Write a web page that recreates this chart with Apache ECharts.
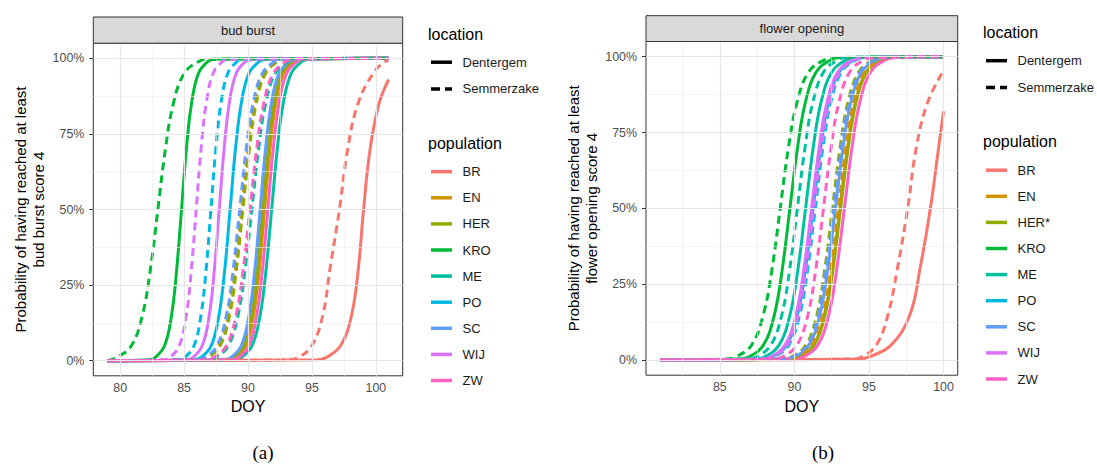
<!DOCTYPE html>
<html><head><meta charset="utf-8">
<script src="https://cdn.jsdelivr.net/npm/echarts@6/dist/echarts.min.js"></script>
<style>html,body{margin:0;padding:0;background:#fff}#c{width:1097px;height:464px}</style>
</head><body><div id="c"></div>
<script>
// ---------- data ----------
const POPULATIONS = ['BR','EN','HER','KRO','ME','PO','SC','WIJ','ZW'];
const POP_LABELS_A = ['BR','EN','HER','KRO','ME','PO','SC','WIJ','ZW'];
const POP_LABELS_B = ['BR','EN','HER*','KRO','ME','PO','SC','WIJ','ZW'];
const POP_COLORS = ['#F8766D','#D39200','#93AA00','#00BA38','#00C19F','#00B9E3','#619CFF','#DB72FB','#FF61C3'];
const LOCATIONS = ['Dentergem','Semmerzake'];
const PANEL_TITLES = ['bud burst','flower opening'];
const Y_TITLES = ['Probability of having reached at least\nbud burst score 4','Probability of having reached at least\nflower opening score 4'];
const X_TITLE = 'DOY';
const SUB_LABELS = ['(a)','(b)'];

// probability levels (%) at which each curve's DOY crossing was read
const LEVELS = [0.3, 1, 5, 15, 30, 50, 70, 85, 95, 99, 99.7];
const PCT_TICKS = [0, 25, 50, 75, 100];
const PCT_MINOR = [12.5, 37.5, 62.5, 87.5];
const DOY_TICKS_A = [80, 85, 90, 95, 100];
const DOY_MINOR_A = [82.5, 87.5, 92.5, 97.5];
const DOY_TICKS_B = [85, 90, 95, 100];
const DOY_MINOR_B = [82.5, 87.5, 92.5, 97.5];
const DOY_SPAN_A = [79, 101];
const DOY_SPAN_B = [81, 100];

// bud burst, Dentergem (solid) - DOY at each level, rows in POPULATIONS order
const BUD_DENTERGEM = [
  [95.4, 96.1, 97.25, 98.1, 98.62, 99.04, 99.55, 100.25, null, null, null],
  [88.4, 89.0, 89.83, 90.43, 90.88, 91.3, 91.72, 92.17, 92.77, 93.6, 94.2],
  [88.25, 88.85, 89.68, 90.28, 90.73, 91.15, 91.57, 92.02, 92.62, 93.45, 94.05],
  [82.19, 82.73, 83.48, 84.02, 84.42, 84.8, 85.18, 85.58, 86.12, 86.87, 87.41],
  [88.83, 89.46, 90.32, 90.95, 91.41, 91.85, 92.29, 92.75, 93.38, 94.24, 94.87],
  [85.7, 86.3, 87.13, 87.73, 88.18, 88.6, 89.02, 89.47, 90.07, 90.9, 91.5],
  [88.05, 88.65, 89.48, 90.08, 90.53, 90.95, 91.37, 91.82, 92.42, 93.25, 93.85],
  [85.14, 85.68, 86.43, 86.97, 87.37, 87.75, 88.13, 88.53, 89.07, 89.82, 90.36],
  [88.65, 89.25, 90.08, 90.68, 91.13, 91.55, 91.97, 92.42, 93.02, 93.85, 94.45]
];
const BUD_DENTERGEM_END = [93, 100, 100, 100, 100, 100, 100, 100, 100];
// bud burst, Semmerzake (dashed)
const BUD_SEMMERZAKE = [
  [93.0, 93.9, 95.0, 95.85, 96.4, 97.15, 97.8, 98.6, 99.79, 100.75, null],
  [86.01, 86.74, 87.73, 88.46, 88.99, 89.5, 90.01, 90.54, 91.27, 92.26, 92.99],
  [86.11, 86.84, 87.83, 88.56, 89.09, 89.6, 90.11, 90.64, 91.37, 92.36, 93.09],
  [null, 79.73, 80.89, 81.74, 82.36, 82.95, 83.54, 84.16, 85.01, 86.17, 87.02],
  [86.7, 87.45, 88.47, 89.22, 89.77, 90.3, 90.83, 91.38, 92.13, 93.15, 93.9],
  [84.49, 85.03, 85.78, 86.32, 86.72, 87.1, 87.48, 87.88, 88.42, 89.17, 89.71],
  [85.86, 86.59, 87.58, 88.31, 88.84, 89.35, 89.86, 90.39, 91.12, 92.11, 92.84],
  [83.34, 83.88, 84.63, 85.17, 85.57, 85.95, 86.33, 86.73, 87.27, 88.02, 88.56],
  [86.55, 87.3, 88.32, 89.07, 89.62, 90.15, 90.68, 91.23, 91.98, 93.0, 93.75]
];
const BUD_SEMMERZAKE_END = [99.2, 100, 100, 100, 100, 100, 100, 100, 100];
// flower opening, Dentergem (solid)
const FLOWER_DENTERGEM = [
  [94.3, 95.0, 96.5, 97.75, 98.42, 99.12, 99.67, null, null, null, null],
  [89.56, 90.29, 91.28, 92.01, 92.54, 93.05, 93.56, 94.09, 94.82, 95.81, 96.54],
  [89.61, 90.34, 91.33, 92.06, 92.59, 93.1, 93.61, 94.14, 94.87, 95.86, 96.59],
  [86.21, 86.94, 87.93, 88.66, 89.19, 89.7, 90.21, 90.74, 91.47, 92.46, 93.19],
  [87.26, 87.99, 88.98, 89.71, 90.24, 90.75, 91.26, 91.79, 92.52, 93.51, 94.24],
  [87.76, 88.49, 89.48, 90.21, 90.74, 91.25, 91.76, 92.29, 93.02, 94.01, 94.74],
  [89.26, 89.99, 90.98, 91.71, 92.24, 92.75, 93.26, 93.79, 94.52, 95.51, 96.24],
  [87.66, 88.39, 89.38, 90.11, 90.64, 91.15, 91.66, 92.19, 92.92, 93.91, 94.64],
  [89.86, 90.59, 91.58, 92.31, 92.84, 93.35, 93.86, 94.39, 95.12, 96.11, 96.84]
];
const FLOWER_DENTERGEM_END = [82, 100, 100, 100, 100, 100, 100, 100, 100];
// flower opening, Semmerzake (dashed)
const FLOWER_SEMMERZAKE = [
  [93.7, 94.5, 95.5, 96.28, 96.9, 97.6, 98.17, 98.94, null, null, null],
  [89.46, 90.19, 91.18, 91.91, 92.44, 92.95, 93.46, 93.99, 94.72, 95.71, 96.44],
  [89.06, 89.79, 90.78, 91.51, 92.04, 92.55, 93.06, 93.59, 94.32, 95.31, 96.04],
  [85.27, 86.06, 87.14, 87.92, 88.5, 89.05, 89.6, 90.18, 90.96, 92.04, 92.83],
  [86.71, 87.44, 88.43, 89.16, 89.69, 90.2, 90.71, 91.24, 91.97, 92.96, 93.69],
  [87.91, 88.64, 89.63, 90.36, 90.89, 91.4, 91.91, 92.44, 93.17, 94.16, 94.89],
  [89.16, 89.89, 90.88, 91.61, 92.14, 92.65, 93.16, 93.69, 94.42, 95.41, 96.14],
  [87.81, 88.54, 89.53, 90.26, 90.79, 91.3, 91.81, 92.34, 93.07, 94.06, 94.79],
  [88.46, 89.19, 90.18, 90.91, 91.44, 91.95, 92.46, 92.99, 93.72, 94.71, 95.44]
];
const FLOWER_SEMMERZAKE_END = [95.4, 100, 100, 100, 100, 100, 100, 100, 100];

// ---------- layout ----------
const FONT = '"Liberation Sans", Arial, sans-serif';
const PANELS = [
  {left: 93.3, top: 43.2, width: 309.4, height: 332.6, stripTop: 17, xmin: 77.9, xmax: 102.1,
   ticks: DOY_TICKS_A, minor: DOY_MINOR_A, span: DOY_SPAN_A,
   solid: BUD_DENTERGEM, solidEnd: BUD_DENTERGEM_END, dashed: BUD_SEMMERZAKE, dashedEnd: BUD_SEMMERZAKE_END,
   legendX: 428, legendY: 34, popLabels: POP_LABELS_A, subX: 263},
  {left: 646, top: 41.5, width: 311.7, height: 333.7, stripTop: 15.7, xmin: 80.05, xmax: 100.95,
   ticks: DOY_TICKS_B, minor: DOY_MINOR_B, span: DOY_SPAN_B,
   solid: FLOWER_DENTERGEM, solidEnd: FLOWER_DENTERGEM_END, dashed: FLOWER_SEMMERZAKE, dashedEnd: FLOWER_SEMMERZAKE_END,
   legendX: 983, legendY: 32.5, popLabels: POP_LABELS_B, subX: 823}
];
const DASH = [8, 5];

function curve(cross, span, endVal) {
  const pts = [[span[0], 0]];
  LEVELS.forEach((lv, i) => { if (cross[i] != null) pts.push([cross[i], lv]); });
  pts.push([span[1], endVal]);
  return pts;
}

const grids = [], xAxes = [], yAxes = [], series = [], graphics = [];
PANELS.forEach((p, k) => {
  grids.push({left: p.left, top: p.top, width: p.width, height: p.height, containLabel: false,
    show: true, backgroundColor: '#fff', borderColor: '#333', borderWidth: 1});
  xAxes.push({type: 'value', gridIndex: k, min: p.xmin, max: p.xmax,
    axisLine: {show: false}, splitLine: {show: false},
    axisTick: {show: true, customValues: p.ticks, length: 4, lineStyle: {color: '#333', width: 1}},
    axisLabel: {customValues: p.ticks, margin: 6, color: '#4D4D4D', fontSize: 12.4, fontFamily: FONT},
    name: X_TITLE, nameLocation: 'middle', nameGap: 22,
    nameTextStyle: {color: '#000', fontSize: 16, fontFamily: FONT}});
  yAxes.push({type: 'value', gridIndex: k, min: -5, max: 105,
    axisLine: {show: false}, splitLine: {show: false},
    axisTick: {show: true, customValues: PCT_TICKS, length: 4, lineStyle: {color: '#333', width: 1}},
    axisLabel: {customValues: PCT_TICKS, margin: 9, color: '#4D4D4D', fontSize: 12.4, fontFamily: FONT,
      formatter: v => v + '%'},
    name: Y_TITLES[k], nameLocation: 'middle', nameGap: 46,
    nameTextStyle: {color: '#000', fontSize: 15, lineHeight: 18, fontFamily: FONT, align: 'center'}});

  // background grid lines (through the axes' scales)
  const gl = [];
  p.minor.forEach(v => gl.push({xAxis: v, lineStyle: {color: '#EEEEEE', width: 0.6, type: 'solid'}}));
  PCT_MINOR.forEach(v => gl.push({yAxis: v, lineStyle: {color: '#EEEEEE', width: 0.6, type: 'solid'}}));
  p.ticks.forEach(v => gl.push({xAxis: v, lineStyle: {color: '#E6E6E6', width: 1.2, type: 'solid'}}));
  PCT_TICKS.forEach(v => gl.push({yAxis: v, lineStyle: {color: '#E6E6E6', width: 1.2, type: 'solid'}}));
  series.push({type: 'line', name: 'grid' + k, xAxisIndex: k, yAxisIndex: k, data: [], silent: true, z: 1,
    markLine: {silent: true, symbol: ['none', 'none'], label: {show: false}, animation: false, data: gl}});

  [[p.solid, p.solidEnd, 'solid', 0], [p.dashed, p.dashedEnd, DASH, 1]].forEach(([rows, ends, type, li]) => {
    rows.forEach((row, i) => {
      series.push({type: 'line', name: POPULATIONS[i] + ' – ' + LOCATIONS[li],
        xAxisIndex: k, yAxisIndex: k, data: curve(row, p.span, ends[i]),
        showSymbol: false, symbol: 'none', smooth: 0.4, silent: true, z: 3,
        lineStyle: {color: POP_COLORS[i], width: 3, type: type, cap: 'butt'}});
    });
  });

  // facet strip
  graphics.push({type: 'rect', shape: {x: p.left, y: p.stripTop, width: p.width, height: p.top - p.stripTop},
    style: {fill: '#D9D9D9', stroke: '#333', lineWidth: 1}, z: 10});
  graphics.push({type: 'text', x: p.left + p.width / 2, y: (p.stripTop + p.top) / 2, z: 11,
    style: {text: PANEL_TITLES[k], fill: '#1A1A1A', font: '13px ' + FONT, textAlign: 'center', textVerticalAlign: 'middle'}});
  // legend: location
  const lx = p.legendX, ly = p.legendY;
  graphics.push({type: 'text', x: lx, y: ly, z: 11,
    style: {text: 'location', fill: '#000', font: '16px ' + FONT, textAlign: 'left', textVerticalAlign: 'middle'}});
  LOCATIONS.forEach((loc, j) => {
    const yy = ly + 28.2 + j * 26.7;
    graphics.push({type: 'line', z: 11, shape: {x1: lx + 3, y1: yy, x2: lx + 24, y2: yy},
      style: {stroke: '#000', lineWidth: 3.5, lineDash: j ? [9, 5] : null}});
    graphics.push({type: 'text', x: lx + 34.5, y: yy, z: 11,
      style: {text: loc, fill: '#1A1A1A', font: '13px ' + FONT, textAlign: 'left', textVerticalAlign: 'middle'}});
  });
  // legend: population
  graphics.push({type: 'text', x: lx, y: ly + 109.3, z: 11,
    style: {text: 'population', fill: '#000', font: '16px ' + FONT, textAlign: 'left', textVerticalAlign: 'middle'}});
  p.popLabels.forEach((lab, i) => {
    const yy = ly + 137.7 + i * 26.1;
    graphics.push({type: 'line', z: 11, shape: {x1: lx + 3, y1: yy, x2: lx + 24, y2: yy},
      style: {stroke: POP_COLORS[i], lineWidth: 3.5}});
    graphics.push({type: 'text', x: lx + 34.5, y: yy, z: 11,
      style: {text: lab, fill: '#1A1A1A', font: '13px ' + FONT, textAlign: 'left', textVerticalAlign: 'middle'}});
  });
  graphics.push({type: 'text', x: p.subX, y: 452, z: 11,
    style: {text: SUB_LABELS[k], fill: '#000', font: '19px "Liberation Serif", "DejaVu Serif", serif', textAlign: 'center', textVerticalAlign: 'middle'}});
});

const chart = echarts.init(document.getElementById('c'), null, {renderer: 'svg', width: 1097, height: 464});
chart.setOption({
  animation: false,
  backgroundColor: '#fff',
  grid: grids, xAxis: xAxes, yAxis: yAxes, series: series, graphic: graphics
});
</script>
</body></html>
